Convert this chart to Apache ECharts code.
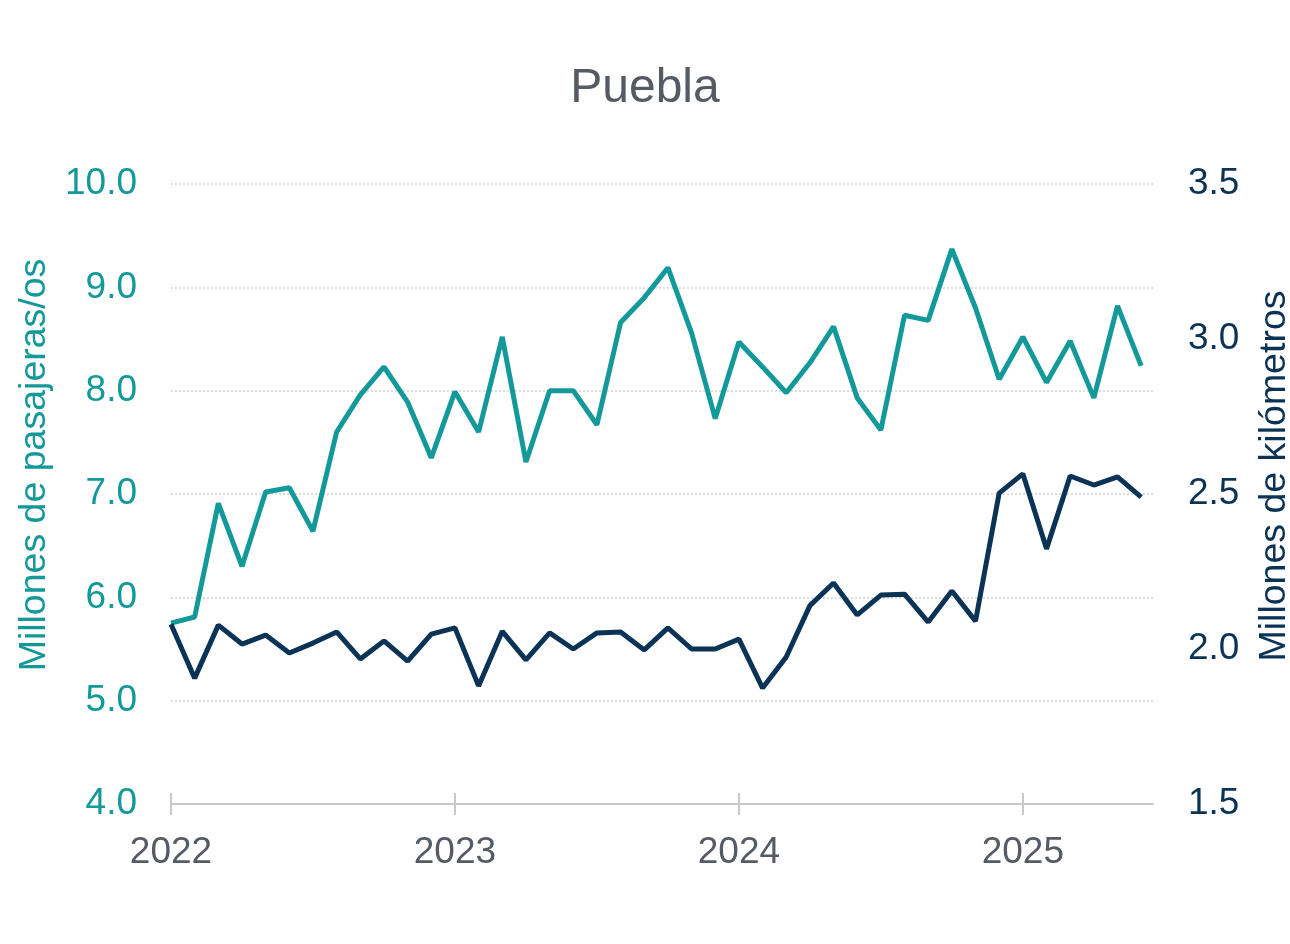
<!DOCTYPE html>
<html>
<head>
<meta charset="utf-8">
<script src="https://cdn.jsdelivr.net/npm/echarts@6/dist/echarts.min.js"></script>
<style>
html,body{margin:0;padding:0;background:#fff;}
#chart{width:1290px;height:944px;}
</style>
</head>
<body>
<div id="chart"></div>
<script>
// Monthly data, Jan 2022 .. Jun 2025 (index 0..41)
const pasajeros = [5.75,5.81,6.91,6.30,7.02,7.06,6.64,7.60,7.96,8.23,7.89,7.35,
  7.99,7.60,8.52,7.31,8.00,8.00,7.67,8.66,8.90,9.19,8.56,7.73,
  8.47,8.23,7.98,8.27,8.62,7.93,7.62,8.73,8.68,9.37,8.80,8.11,
  8.52,8.08,8.48,7.93,8.82,8.24];
const kilometros = [2.080,1.906,2.077,2.016,2.045,1.987,2.019,2.055,1.968,2.026,1.961,2.048,
  2.068,1.881,2.057,1.965,2.052,2.000,2.052,2.055,1.997,2.068,2.000,2.000,
  2.032,1.874,1.974,2.140,2.213,2.110,2.174,2.177,2.087,2.187,2.090,2.503,
  2.565,2.323,2.558,2.529,2.555,2.490];
const years = ['2022','2023','2024','2025'];
const yearTickIdx = [0,12,24,36];
const leftTicks = [4,5,6,7,8,9,10];
const rightTicks = [1.5,2.0,2.5,3.0,3.5];

const TEAL = '#14999a';
const NAVY = '#0b3356';
const GRAYTXT = '#555b63';
const FONT = '"Liberation Sans", Arial, sans-serif';

const chart = echarts.init(document.getElementById('chart'));
const xCommon = {
  type: 'value', min: 0, max: 41.5, position: 'bottom',
  splitLine: {show: false}
};
chart.setOption({
  animation: false,
  backgroundColor: '#ffffff',
  title: {
    text: 'Puebla', left: 'center', top: 60,
    textStyle: {color: GRAYTXT, fontSize: 48, fontWeight: 'normal', fontFamily: FONT}
  },
  grid: {left: 171, right: 137, top: 184, bottom: 140, outerBoundsMode: 'none', containLabel: false},
  xAxis: [
    Object.assign({}, xCommon, {
      axisLine: {show: true, lineStyle: {color: '#c8c8c8', width: 2}},
      axisTick: {show: true, length: 11, lineStyle: {color: '#c8c8c8', width: 2}, customValues: yearTickIdx},
      axisLabel: {
        show: true, customValues: yearTickIdx, margin: 30,
        color: GRAYTXT, fontSize: 37, fontFamily: FONT,
        formatter: v => years[yearTickIdx.indexOf(Math.round(v))] || ''
      }
    }),
    Object.assign({}, xCommon, {
      axisLine: {show: false},
      axisTick: {show: true, inside: true, length: 11, lineStyle: {color: '#c8c8c8', width: 2}, customValues: yearTickIdx},
      axisLabel: {show: false}
    })
  ],
  yAxis: [
    {
      type: 'value', position: 'left', min: leftTicks[0], max: leftTicks[leftTicks.length-1], interval: 1,
      name: 'Millones de pasajeras/os', nameLocation: 'middle', nameRotate: 90, nameGap: 112,
      nameTextStyle: {color: TEAL, fontSize: 37.5, fontFamily: FONT, padding: [0,0,0,58]},
      axisLine: {show: false}, axisTick: {show: false},
      axisLabel: {color: TEAL, fontSize: 37, fontFamily: FONT, margin: 34, formatter: v => v.toFixed(1)},
      splitLine: {show: true, lineStyle: {color: '#d2d2d2', width: 1.5, type: [2, 2]}}
    },
    {
      type: 'value', position: 'right', min: rightTicks[0], max: rightTicks[rightTicks.length-1], interval: 0.5,
      name: 'Millones de kilómetros', nameLocation: 'middle', nameRotate: 90, nameGap: 103,
      nameTextStyle: {color: NAVY, fontSize: 37.5, fontFamily: FONT, padding: [0,0,0,36]},
      axisLine: {show: false}, axisTick: {show: false},
      axisLabel: {color: NAVY, fontSize: 37, fontFamily: FONT, margin: 35, formatter: v => v.toFixed(1)},
      splitLine: {show: false}
    }
  ],
  series: [
    {
      name: 'Pasajeros', type: 'line', xAxisIndex: 0, yAxisIndex: 0,
      data: pasajeros.map((v, i) => [i, v]),
      showSymbol: false, lineStyle: {color: TEAL, width: 5}, itemStyle: {color: TEAL}
    },
    {
      name: 'Kilómetros', type: 'line', xAxisIndex: 0, yAxisIndex: 1,
      data: kilometros.map((v, i) => [i, v]),
      showSymbol: false, lineStyle: {color: NAVY, width: 5}, itemStyle: {color: NAVY}
    }
  ]
});
</script>
</body>
</html>
